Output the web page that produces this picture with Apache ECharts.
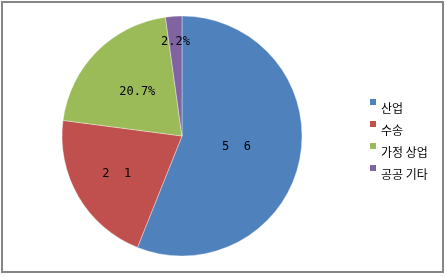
<!DOCTYPE html>
<html>
<head>
<meta charset="utf-8">
<script src="https://cdn.jsdelivr.net/npm/echarts@6/dist/echarts.min.js"></script>
<style>
html,body{margin:0;padding:0;background:#fff;}
#wrap{position:relative;width:446px;height:277px;}
#chart{position:absolute;left:0;top:0;width:446px;height:277px;}
#frame{position:absolute;left:1px;top:1px;width:443px;height:272px;box-sizing:border-box;border:2px solid #858585;pointer-events:none;}
</style>
</head>
<body>
<div id="wrap"><div id="chart"></div><div id="frame"></div></div>
<script>
// Data
const categories = ['산업', '수송', '가정 상업', '공공 기타'];
const values = [56, 21, 20.7, 2.2];
const labelTexts = ['5  6', '2  1', '20.7%', '2.2%'];
const colors = ['#4F81BD', '#C0504D', '#9BBB59', '#8064A2'];

// label radial placement factors (relative to default inside position)
const labelRadial = [0.88, 1.2, 1.0, 1.5];
const CX = 182, CY = 136;

const chart = echarts.init(document.getElementById('chart'), null, {renderer: 'canvas'});
chart.setOption({
  animation: false,
  backgroundColor: '#fff',
  color: colors,
  legend: {
    orient: 'vertical',
    left: 370,
    top: 99,
    padding: 0,
    itemWidth: 6,
    itemHeight: 18,
    itemGap: 4,
    icon: 'path://M0,0H6V6H0Z M0,18L0.01,18',
    itemStyle: {borderWidth: 0},
    data: categories,
    textStyle: {
      fontFamily: 'Noto Sans CJK KR',
      fontSize: 12,
      color: '#000'
    }
  },
  series: [{
    type: 'pie',
    center: [CX, CY],
    radius: 120,
    startAngle: 90,
    clockwise: true,
    silent: true,
    itemStyle: {borderColor: 'rgba(255,255,255,0.6)', borderWidth: 0.6},
    label: {
      show: true,
      position: 'inside',
      fontFamily: 'DejaVu Sans Mono',
      fontSize: 12,
      color: '#000',
      formatter: p => labelTexts[p.dataIndex]
    },
    labelLine: {show: false},
    labelLayout: function (params) {
      const r = params.labelRect;
      const lx = r.x + r.width / 2, ly = r.y + r.height / 2;
      const f = labelRadial[params.dataIndex];
      return {x: CX + (lx - CX) * f, y: CY + (ly - CY) * f};
    },
    data: categories.map((c, i) => ({name: c, value: values[i]}))
  }]
});
</script>
</body>
</html>
